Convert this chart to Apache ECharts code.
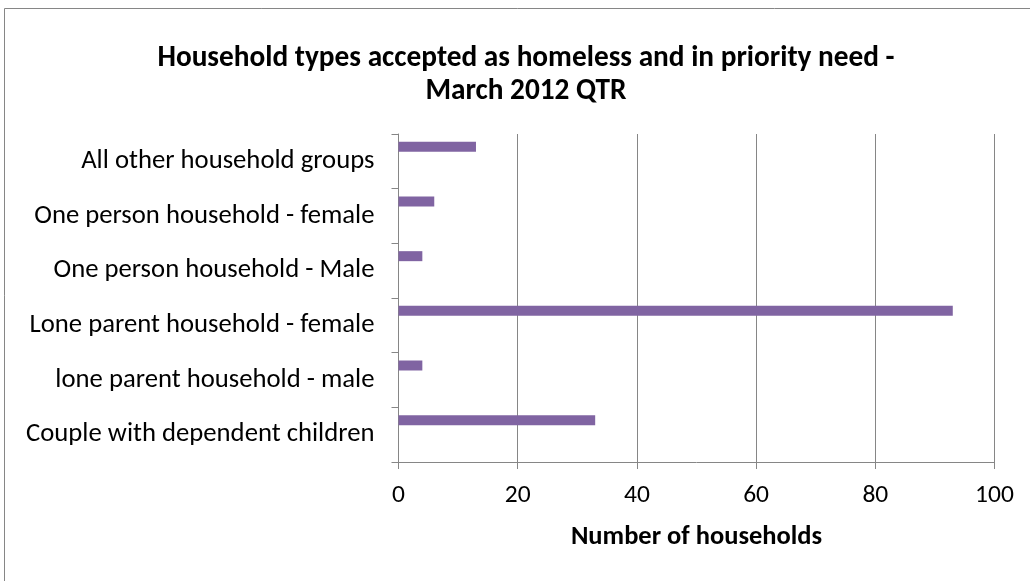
<!DOCTYPE html>
<html><head><meta charset="utf-8">
<script src="https://cdn.jsdelivr.net/npm/echarts@6/dist/echarts.min.js"></script>
<style>html,body{margin:0;padding:0;background:#fff}#c{width:1030px;height:581px}</style>
</head><body><div id="c"></div>
<script>
const categories = ["Couple with dependent children","lone parent household - male","Lone parent household - female","One person household - Male","One person household - female","All other household groups"];
const values = [33, 4, 93, 4, 6, 13];
const titleLines = ["Household types accepted as homeless and in priority need -", "March 2012 QTR"];
const xAxisName = "Number of households";

const chart = echarts.init(document.getElementById('c'), null, {renderer:'canvas'});
const font = "Carlito, 'Liberation Sans Narrow', 'Open Sans', sans-serif";
chart.setOption({
  animation:false,
  backgroundColor:'#fff',
  title:{text:titleLines.join('\n'), left:521, top:37, textAlign:'center',
    textStyle:{fontFamily:font, fontWeight:'bold', fontSize:29.3, lineHeight:33, color:'#000'}},
  graphic:[{type:'rect', shape:{x:4.5,y:8.5,width:1030,height:600}, style:{fill:'none',stroke:'#868686',lineWidth:1}, silent:true}],
  grid:{left:398.5, right:35.5, top:134, bottom:119, containLabel:false},
  xAxis:{type:'value', min:0, max:100, interval:20,
    name:xAxisName, nameLocation:'middle', nameGap:62,
    nameTextStyle:{fontFamily:font, fontWeight:'bold', fontSize:26.5, color:'#000'},
    axisLine:{show:true, lineStyle:{color:'#868686', width:1}},
    axisTick:{show:true, length:7, lineStyle:{color:'#868686'}},
    axisLabel:{fontFamily:font, fontSize:25.5, color:'#000', margin:21},
    splitLine:{show:true, lineStyle:{color:'#868686', width:1}}},
  yAxis:{type:'category', data:categories,
    axisLine:{show:true, lineStyle:{color:'#868686', width:1}},
    axisTick:{show:true, length:7, lineStyle:{color:'#868686'}},
    axisLabel:{fontFamily:font, fontSize:26.7, color:'#000', margin:24, padding:[4,0,0,0]}},
  series:[
    {type:'bar', data:values, barWidth:10, barGap:'190%', itemStyle:{color:'#8064A2'}},
    {type:'bar', data:values.map(()=>null), barWidth:10}
  ]
});
</script></body></html>
